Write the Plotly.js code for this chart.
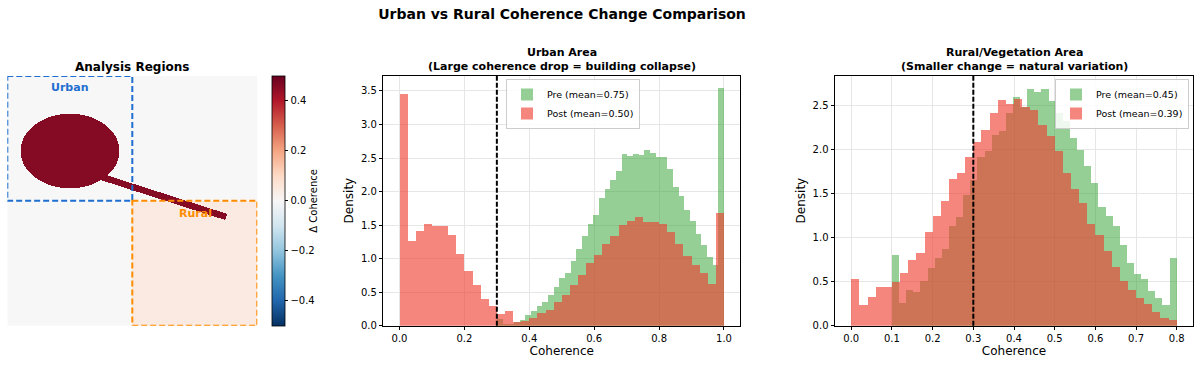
<!DOCTYPE html>
<html>
<head>
<meta charset="utf-8">
<script src="https://cdn.plot.ly/plotly-3.0.1.min.js"></script>
<style>html,body{margin:0;padding:0;background:#fff;}#chart{width:1200px;height:365px;}</style>
</head>
<body>
<div id="chart"></div>
<script>
// ---------------- DATA ----------------
const threshold = 0.3;
const nBins = 40;

// Urban histograms (density)
const urbanPreRange = [0.3, 1.0];
const urbanPre = [0.10,0.02,0.02,0.05,0.09,0.16,0.22,0.29,0.36,0.46,0.58,0.71,0.79,0.96,1.15,1.33,1.51,1.65,1.91,2.04,2.17,2.31,2.56,2.53,2.56,2.54,2.62,2.58,2.52,2.51,2.34,2.07,1.93,1.72,1.56,1.36,1.21,1.02,0.91,3.54];
const urbanPostRange = [0.0, 1.0];
const urbanPost = [3.46,1.26,1.415,1.51,1.485,1.485,1.345,1.07,0.81,0.61,0.40,0.29,0.18,0.22,0.05,0.07,0.12,0.19,0.24,0.36,0.46,0.61,0.755,0.94,1.05,1.22,1.34,1.50,1.555,1.62,1.55,1.55,1.51,1.40,1.22,1.04,0.91,0.78,0.62,1.68];
const urbanPreMean = 0.75, urbanPostMean = 0.50;

// Rural histograms (density)
const ruralPreRange = [0.1, 0.8];
const ruralPre = [0.80,0.26,0.40,0.385,0.51,0.66,0.77,0.87,1.13,1.235,1.48,1.65,1.91,1.98,2.16,2.21,2.42,2.60,2.48,2.69,2.65,2.69,2.545,2.42,2.32,2.13,1.99,1.81,1.62,1.35,1.25,1.13,0.92,0.71,0.59,0.525,0.39,0.31,0.23,0.77];
const ruralPostRange = [0.0, 0.8];
const ruralPost = [0.525,0.23,0.33,0.435,0.44,0.50,0.60,0.75,0.83,1.06,1.25,1.42,1.665,1.73,1.915,2.09,2.22,2.42,2.56,2.52,2.575,2.48,2.45,2.28,2.15,1.98,1.73,1.55,1.39,1.15,1.03,0.85,0.67,0.51,0.40,0.31,0.25,0.15,0.09,0.06];
const ruralPreMean = 0.45, ruralPostMean = 0.39;

// Analysis-region map (Δ coherence), grid of gridSize x gridSize cells
const gridSize = 250;
const urbanBox = [0, 125, 0, 125];     // col0, col1, row0, row1
const ruralBox = [125, 250, 125, 250];
const collapseEllipse = {cx: 62.5, cy: 74.5, rx: 49.4, ry: 37.3};
const roadSegment = {x0: 75, y0: 94.3, x1: 218.8, y1: 140.5, halfWidth: 3.2};
const collapseValue = 0.46;
const ruralValue = 0.045;
const backgroundValue = 0.0;
const urbanLabelRow = 11.3, ruralLabelRow = 136.9;

const xTicksUrban = [0, 0.2, 0.4, 0.6, 0.8, 1.0];
const yTicksUrban = [0, 0.5, 1.0, 1.5, 2.0, 2.5, 3.0, 3.5];
const xTicksRural = [0, 0.1, 0.2, 0.3, 0.4, 0.5, 0.6, 0.7, 0.8];
const yTicksRural = [0, 0.5, 1.0, 1.5, 2.0, 2.5];
const cbTickVals = [-0.4, -0.2, 0.0, 0.2, 0.4];
const cbTickText = ['\u22120.4', '\u22120.2', '0.0', '0.2', '0.4'];

// ---------------- BUILD ----------------
function binEdges(range, n) {
  const w = (range[1] - range[0]) / n;
  const left = [];
  for (let i = 0; i < n; i++) left.push(range[0] + i * w);
  return {left, w};
}

const z = [];
for (let r = 0; r < gridSize; r++) {
  const row = [];
  for (let c = 0; c < gridSize; c++) {
    let v = backgroundValue;
    if (c >= ruralBox[0] && c < ruralBox[1] && r >= ruralBox[2] && r < ruralBox[3]) v = ruralValue;
    const ex = (c - collapseEllipse.cx) / collapseEllipse.rx;
    const ey = (r - collapseEllipse.cy) / collapseEllipse.ry;
    if (ex * ex + ey * ey <= 1) v = collapseValue;
    const dx = roadSegment.x1 - roadSegment.x0, dy = roadSegment.y1 - roadSegment.y0;
    const t = ((c - roadSegment.x0) * dx + (r - roadSegment.y0) * dy) / (dx * dx + dy * dy);
    if (t >= 0 && t <= 1) {
      const px = roadSegment.x0 + t * dx, py = roadSegment.y0 + t * dy;
      if (Math.hypot(c - px, r - py) <= roadSegment.halfWidth) v = collapseValue;
    }
    row.push(v);
  }
  z.push(row);
}

const rdbu_r = [
  [0.0, '#053061'], [0.1, '#2166ac'], [0.2, '#4393c3'], [0.3, '#92c5de'], [0.4, '#d1e5f0'],
  [0.5, '#f7f7f7'], [0.6, '#fddbc7'], [0.7, '#f4a582'], [0.8, '#d6604d'], [0.9, '#b2182b'], [1.0, '#67001f']
];

const FONT = 'DejaVu Sans, Liberation Sans, sans-serif';
const GREEN = 'rgba(44,160,44,0.5)';
const RED = 'rgba(238,60,45,0.62)';
const TICK = 10;

function histTrace(vals, range, color, name, xa, ya, legend) {
  const e = binEdges(range, nBins);
  return {
    type: 'bar', x: e.left, y: vals, width: e.w, offset: 0,
    marker: {color: color, line: {width: 0}},
    name: name, xaxis: xa, yaxis: ya, legend: legend, hoverinfo: 'skip'
  };
}

const traces = [
  {
    type: 'heatmap', z: z, colorscale: rdbu_r, zmin: -0.5, zmax: 0.5,
    xaxis: 'x', yaxis: 'y', hoverinfo: 'skip', showlegend: false,
    colorbar: {
      x: 271.7 / 1200, xanchor: 'left', xref: 'paper', xpad: 0, ypad: 0,
      y: 1 - 200.9 / 365, yanchor: 'middle',
      len: 250, lenmode: 'pixels', thickness: 12.6, thicknessmode: 'pixels',
      outlinecolor: '#000', outlinewidth: 0.8,
      tickvals: cbTickVals, ticktext: cbTickText, ticks: 'outside', ticklen: 3.5, tickcolor: '#000',
      tickfont: {family: FONT, size: TICK, color: '#000'},
      title: {text: '\u0394 Coherence', side: 'right', font: {family: FONT, size: 10, color: '#000'}}
    }
  },
  histTrace(urbanPre, urbanPreRange, GREEN, 'Pre (mean=' + urbanPreMean.toFixed(2) + ')', 'x2', 'y2', 'legend'),
  histTrace(urbanPost, urbanPostRange, RED, 'Post (mean=' + urbanPostMean.toFixed(2) + ')', 'x2', 'y2', 'legend'),
  histTrace(ruralPre, ruralPreRange, GREEN, 'Pre (mean=' + ruralPreMean.toFixed(2) + ')', 'x3', 'y3', 'legend2'),
  histTrace(ruralPost, ruralPostRange, RED, 'Post (mean=' + ruralPostMean.toFixed(2) + ')', 'x3', 'y3', 'legend2')
];

const yDomain = [1 - 325.7 / 365, 1 - 75.5 / 365];

function histX(domain, range, ticks, anchor) {
  return {
    domain: domain, range: range, anchor: anchor, tickvals: ticks, tickformat: '.1f',
    showgrid: true, gridcolor: '#e6e6e6', gridwidth: 1, zeroline: false,
    showline: true, linecolor: '#000', linewidth: 1, mirror: true,
    ticks: 'outside', ticklen: 3.5, tickwidth: 1, tickcolor: '#000',
    tickfont: {family: FONT, size: TICK, color: '#000'},
    title: {text: 'Coherence', font: {family: FONT, size: 12, color: '#000'}, standoff: 2},
    automargin: false
  };
}
function histY(range, ticks, anchor) {
  return {
    domain: yDomain, range: range, anchor: anchor, tickvals: ticks, tickformat: '.1f',
    showgrid: true, gridcolor: '#e6e6e6', gridwidth: 1, zeroline: false,
    showline: true, linecolor: '#000', linewidth: 1, mirror: true,
    ticks: 'outside', ticklen: 3.5, tickwidth: 1, tickcolor: '#000',
    tickfont: {family: FONT, size: TICK, color: '#000'},
    title: {text: 'Density', font: {family: FONT, size: 12, color: '#000'}, standoff: 4},
    automargin: false
  };
}

const legendCommon = {
  bgcolor: 'rgba(255,255,255,0.85)', bordercolor: '#cccccc', borderwidth: 1,
  font: {family: FONT, size: 9.5, color: '#000'}, xref: 'paper', yref: 'paper',
  yanchor: 'top', tracegroupgap: 0, itemwidth: 30, traceorder: 'normal'
};

const layout = {
  width: 1200, height: 365,
  margin: {l: 0, r: 0, t: 0, b: 0},
  paper_bgcolor: '#fff', plot_bgcolor: '#fff',
  barmode: 'overlay', bargap: 0,
  font: {family: FONT, color: '#000'},
  title: {text: '<b>Urban vs Rural Coherence Change Comparison</b>', x: 562 / 1200, xanchor: 'center',
          y: 1 - 14 / 365, yanchor: 'middle', font: {family: FONT, size: 14, color: '#000'}},
  xaxis: {domain: [7.3 / 1200, 257.3 / 1200], range: [-0.5, gridSize - 0.5], visible: false, anchor: 'y'},
  yaxis: {domain: [1 - 325.7 / 365, 1 - 76 / 365], range: [gridSize - 0.5, -0.5], visible: false, anchor: 'x'},
  xaxis2: histX([383.3 / 1200, 740.2 / 1200], [-0.05, 1.05], xTicksUrban, 'y2'),
  yaxis2: histY([0, 3.73], yTicksUrban, 'x2'),
  xaxis3: histX([835 / 1200, 1193 / 1200], [-0.04, 0.84], xTicksRural, 'y3'),
  yaxis3: histY([0, 2.84], yTicksRural, 'x3'),
  legend: Object.assign({}, legendCommon, {x: 506 / 1200, xanchor: 'left', y: 1 - 79 / 365}),
  legend2: Object.assign({}, legendCommon, {x: 1189 / 1200, xanchor: 'right', y: 1 - 79 / 365}),
  shapes: [
    {type: 'rect', xref: 'x', yref: 'y', x0: urbanBox[0] - 0.5, x1: urbanBox[1] - 0.5, y0: urbanBox[2] - 0.5, y1: urbanBox[3] - 0.5,
     line: {color: '#1f6fd0', width: 2, dash: '6px,3px'}, layer: 'above'},
    {type: 'rect', xref: 'x', yref: 'y', x0: ruralBox[0] - 0.5, x1: ruralBox[1] - 0.5, y0: ruralBox[2] - 0.5, y1: ruralBox[3] - 0.5,
     line: {color: '#ff8c00', width: 2, dash: '6px,3px'}, layer: 'above'},
    {type: 'line', xref: 'x2', yref: 'y2 domain', x0: threshold, x1: threshold, y0: 0, y1: 1,
     line: {color: '#000', width: 2, dash: '5px,2px'}, layer: 'above'},
    {type: 'line', xref: 'x3', yref: 'y3 domain', x0: threshold, x1: threshold, y0: 0, y1: 1,
     line: {color: '#000', width: 2, dash: '5px,2px'}, layer: 'above'}
  ],
  annotations: [
    {text: '<b>Analysis Regions</b>', xref: 'paper', yref: 'paper', x: 132.3 / 1200, y: 1 - 67 / 365,
     xanchor: 'center', yanchor: 'middle', showarrow: false, font: {family: FONT, size: 12, color: '#000'}},
    {text: '<b>Urban Area</b>', xref: 'paper', yref: 'paper', x: 561.7 / 1200, y: 1 - 53 / 365,
     xanchor: 'center', yanchor: 'middle', showarrow: false, font: {family: FONT, size: 11, color: '#000'}},
    {text: '<b>(Large coherence drop = building collapse)</b>', xref: 'paper', yref: 'paper', x: 561.7 / 1200, y: 1 - 66.5 / 365,
     xanchor: 'center', yanchor: 'middle', showarrow: false, font: {family: FONT, size: 11, color: '#000'}},
    {text: '<b>Rural/Vegetation Area</b>', xref: 'paper', yref: 'paper', x: 1014 / 1200, y: 1 - 53 / 365,
     xanchor: 'center', yanchor: 'middle', showarrow: false, font: {family: FONT, size: 11, color: '#000'}},
    {text: '<b>(Smaller change = natural variation)</b>', xref: 'paper', yref: 'paper', x: 1014 / 1200, y: 1 - 66.5 / 365,
     xanchor: 'center', yanchor: 'middle', showarrow: false, font: {family: FONT, size: 11, color: '#000'}},
    {text: '<b>Urban</b>', xref: 'x', yref: 'y', x: (urbanBox[0] + urbanBox[1]) / 2, y: urbanLabelRow,
     xanchor: 'center', yanchor: 'middle', showarrow: false, font: {family: FONT, size: 11, color: '#1f6fd0'}},
    {text: '<b>Rural</b>', xref: 'x', yref: 'y', x: (ruralBox[0] + ruralBox[1]) / 2, y: ruralLabelRow,
     xanchor: 'center', yanchor: 'middle', showarrow: false, font: {family: FONT, size: 11, color: '#ff8c00'}}
  ]
};

Plotly.newPlot('chart', traces, layout, {staticPlot: true, displayModeBar: false});
</script>
</body>
</html>
